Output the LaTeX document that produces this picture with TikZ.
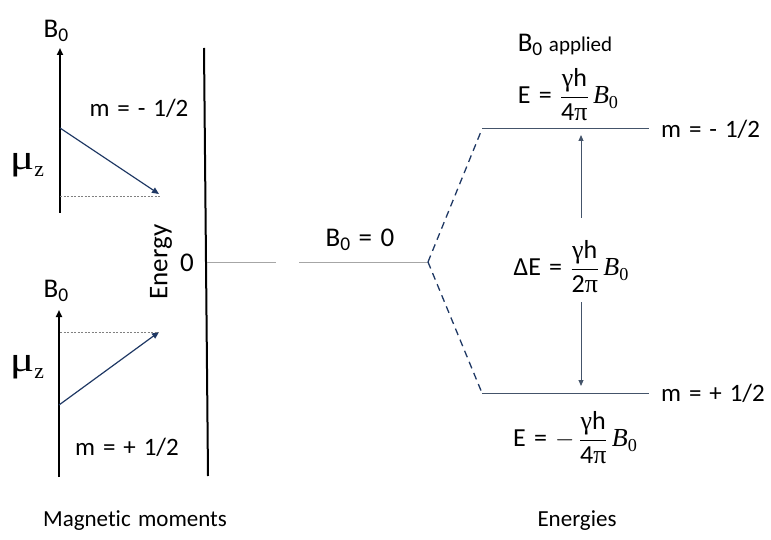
\documentclass[tikz,border=0pt]{standalone}
\usepackage{fontspec}
\usepackage{graphicx}
\setmainfont{Carlito}[WordSpace=1.4, Ligatures={NoCommon}]
\newfontfamily\serif{Liberation Serif}
\usetikzlibrary{arrows.meta}
\definecolor{navy}{HTML}{1F3864}
\definecolor{slate}{HTML}{44546A}
\definecolor{zeroline}{HTML}{A6A6A6}
\newcommand\subz[1]{\raisebox{-0.35ex}{\scalebox{0.72}{#1}}}
\newcommand\frc[2]{$\displaystyle\frac{\mbox{#1}}{\mbox{#2}}$}
\newcommand\Bser{{\serif\itshape B}\raisebox{-0.4ex}{\scalebox{0.7}{\serif 0}}}
\newcommand\muz{\scalebox{1.3}[1]{\serif μ}\raisebox{-0.2em}{\scalebox{0.62}{\serif z}}}
\begin{document}
\begin{tikzpicture}[x=1pt,y=-1pt,
  lab/.style={font=\fontsize{23}{27}\selectfont, inner sep=0pt},
  mlab/.style={font=\fontsize{25}{28}\selectfont, inner sep=0pt},
  big/.style={font=\fontsize{27}{30}\selectfont, inner sep=0pt},
  mulab/.style={font=\fontsize{35}{38}\selectfont, inner sep=0pt},
  eq/.style={font=\fontsize{26}{30}\selectfont, inner sep=0pt},
  axis/.style={line width=2pt},
  uparrow/.style={axis, -{Triangle[length=7pt,width=6pt]}},
  moment/.style={draw=navy, line width=1.2pt, -{Triangle[length=7pt,width=6pt]}},
  guide/.style={draw=gray, line width=0.5pt, dash pattern=on 2pt off 1.5pt},
  zero/.style={draw=zeroline, line width=1pt},
  level/.style={draw=slate, line width=1pt},
  split/.style={draw=navy, line width=1.3pt, dash pattern=on 7pt off 5pt},
  gap/.style={draw=slate, line width=1pt, -{Triangle[length=6pt,width=5pt]}}]
\useasboundingbox (0,0) rectangle (771,540);

% ---- top magnetic moment (m = -1/2)
\coordinate (a1b) at (60,213);
\coordinate (a1t) at (60,48);
\draw[uparrow] (a1b) -- (a1t);
\node[big] (b1) at (56,31) {B\subz{0}};
\coordinate (m1s) at (60,128);
\coordinate (m1e) at (159,194);
\draw[moment] (m1s) -- (m1e);
\coordinate (g1s) at (60,196);
\coordinate (g1e) at (160,196);
\draw[guide] (g1s) -- (g1e);
\node[mlab] (ml1) at (139,108) {m = - 1/2};
\node[mulab] (mu1) at (27,165) {\muz};

% ---- bottom magnetic moment (m = +1/2)
\coordinate (a2b) at (59,477);
\coordinate (a2t) at (59,310);
\draw[uparrow] (a2b) -- (a2t);
\node[big] (b2) at (56,291) {B\subz{0}};
\coordinate (m2s) at (59,405);
\coordinate (m2e) at (159,332);
\draw[moment] (m2s) -- (m2e);
\coordinate (g2s) at (60,332);
\coordinate (g2e) at (159,332);
\draw[guide] (g2s) -- (g2e);
\node[mlab] (ml2) at (127,447) {m = + 1/2};
\node[mulab] (mu2) at (27,367) {\muz};

% ---- energy axis
\coordinate (et) at (204,48);
\coordinate (eb) at (208,476);
\draw[axis] (et) -- (eb);
\node[rotate=90, inner sep=0pt, font=\fontsize{27}{30}\selectfont] (en) at (161,262) {Energy};
\node[big] (z0) at (187,263) {0};

% ---- zero field level
\coordinate (z1a) at (207,262);
\coordinate (z1b) at (276,262);
\coordinate (z2a) at (299,262);
\coordinate (sp) at (428,262);
\draw[zero] (z1a) -- (z1b);
\draw[zero] (z2a) -- (sp);
\node[big] (b00) at (360,240) {B\subz{0} = 0};

% ---- split levels
\coordinate (ua) at (482,129);
\coordinate (ub) at (649,129);
\coordinate (la) at (482,393);
\coordinate (lb) at (649,393);
\draw[level] (ua) -- (ub);
\draw[level] (la) -- (lb);
\draw[split] (sp) -- (ua);
\draw[split] (sp) -- (la);
\node[mlab, anchor=west] (mr1) at (661,129) {m = - 1/2};
\node[mlab, anchor=west] (mr2) at (661,393) {m = + 1/2};

% ---- gap arrows
\coordinate (up0) at (581,218);
\coordinate (up1) at (581,135);
\coordinate (dn0) at (581,302);
\coordinate (dn1) at (581,386);
\draw[gap] (up0) -- (up1);
\draw[gap] (dn0) -- (dn1);

% ---- formulas
\node[inner sep=0pt] (bapp) at (565,45) {\fontsize{27}{30}\selectfont B\subz{0}\fontsize{21}{24}\selectfont\ applied};
\node[eq] (eup) at (568,95) {E = \frc{{\serif γ}h}{4{\serif π}}\,\Bser};
\node[eq] (de) at (571,267) {ΔE = \frc{{\serif γ}h}{2{\serif π}}\,\Bser};
\node[eq] (edn) at (575,438) {E = $-$\,\frc{{\serif γ}h}{4{\serif π}}\,\Bser};

% ---- captions
\node[lab] (cap1) at (135,521) {Magnetic moments};
\node[lab] (cap2) at (577,521) {Energies};
\end{tikzpicture}
\end{document}
